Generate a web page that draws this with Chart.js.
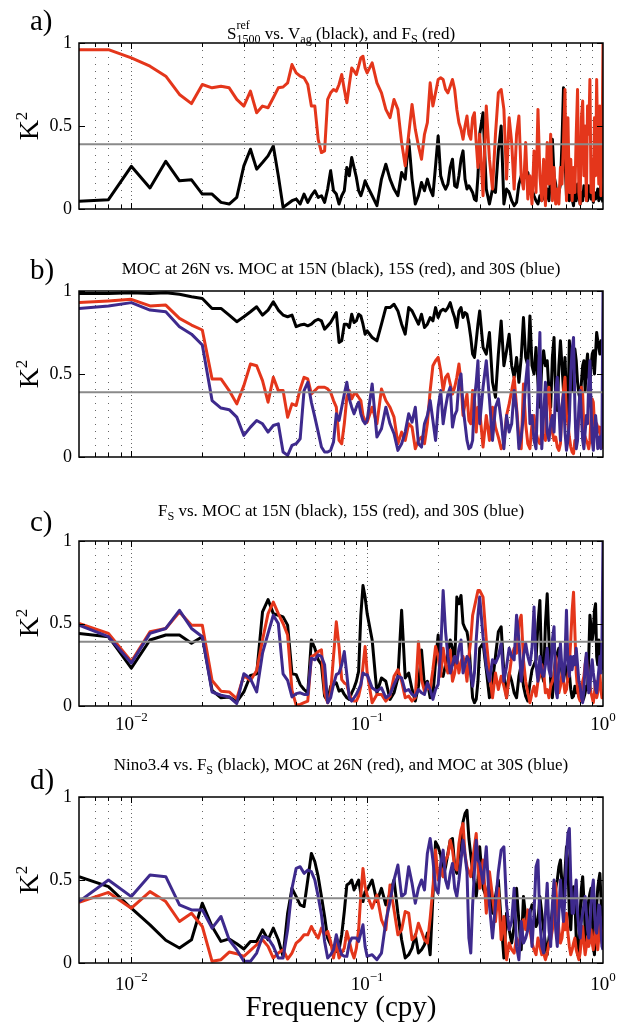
<!DOCTYPE html>
<html>
<head>
<meta charset="utf-8">
<script src="https://cdn.jsdelivr.net/npm/chart.js@4"></script>
<style>
  body { margin: 0; background: #fff; width: 627px; height: 1026px; position: relative; overflow: hidden; }
  canvas { position: absolute; left: 0; }
  .txt { position: absolute; font-family: "Liberation Serif", "Times New Roman", serif; color: #000; white-space: nowrap; }
  .title { left: 79px; width: 524px; text-align: center; font-size: 17px; line-height: 17px; }
  .lab { font-size: 29px; line-height: 29px; left: 30px; }
  .klab { font-size: 28px; line-height: 28px; transform: translate(-50%, -50%) rotate(-90deg); }
  .klab sup { font-size: 17px; vertical-align: 11px; line-height: 0; }
  sub { font-size: 0.72em; vertical-align: -0.3em; line-height: 0; }
  .stk { display: inline-block; font-size: 12px; line-height: 14px; vertical-align: -4px; text-align: left; }
  .stk span { display: block; }
  .xtitle { left: 79px; width: 524px; text-align: center; font-size: 29px; line-height: 29px; }
</style>
</head>
<body>
<canvas id="ca" width="627" height="250" style="top:0"></canvas>
<canvas id="cb" width="627" height="250" style="top:250px"></canvas>
<canvas id="cc" width="627" height="250" style="top:500px"></canvas>
<canvas id="cd" width="627" height="276" style="top:750px"></canvas>

<div class="txt lab" style="top:6px">a)</div>
<div class="txt lab" style="top:255px">b)</div>
<div class="txt lab" style="top:507px">c)</div>
<div class="txt lab" style="top:765px">d)</div>

<div class="txt title" style="top:18px">S<span class="stk"><span>ref</span><span>1500</span></span> vs. V<sub>ag</sub> (black), and F<sub>S</sub> (red)</div>
<div class="txt title" style="top:260px">MOC at 26N vs. MOC at 15N (black), 15S (red), and 30S (blue)</div>
<div class="txt title" style="top:502px">F<sub>S</sub> vs. MOC at 15N (black), 15S (red), and 30S (blue)</div>
<div class="txt title" style="top:756px">Nino3.4 vs. F<sub>S</sub> (black), MOC at 26N (red), and MOC at 30S (blue)</div>

<div class="txt klab" style="left:29px; top:126px">K<sup>2</sup></div>
<div class="txt klab" style="left:29px; top:374px">K<sup>2</sup></div>
<div class="txt klab" style="left:29px; top:623px">K<sup>2</sup></div>
<div class="txt klab" style="left:29px; top:880px">K<sup>2</sup></div>

<div class="txt xtitle" style="top:992px">Frequency (cpy)</div>

<script>
// frequency grid (cpy): fine at low frequency, coarser where the curves turn to noise
const freq = [];
for (let i = 3; i <= 50; i++) freq.push(+(i * 0.002).toFixed(3)); // 0.006 .. 0.100
for (let i = 21; i <= 60; i++) freq.push(+(i * 0.005).toFixed(3)); // 0.105 .. 0.300
for (let i = 31; i <= 100; i++) freq.push(+(i * 0.01).toFixed(2)); // 0.31 .. 1.00

const sigLevel = 0.39;

// a) S1500 vs Vag (black), FS (red)
const aBlack = [
  0.046, 0.056, 0.257, 0.127, 0.287, 0.17, 0.176, 0.09, 0.09, 0.04,
  0.03, 0.07, 0.26, 0.36, 0.24, 0.28, 0.32, 0.38, 0.20, 0.01,
  0.03, 0.05, 0.06, 0.03, 0.09, 0.04, 0.08, 0.11, 0.07, 0.08,
  0.04, 0.12, 0.23, 0.11, 0.09, 0.03, 0.08, 0.11, 0.25, 0.20,
  0.31, 0.25, 0.19, 0.11, 0.08, 0.12, 0.17, 0.14,
  0.08, 0.02, 0.18, 0.27, 0.18, 0.12, 0.08, 0.22, 0.18, 0.42,
  0.18, 0.03, 0.08, 0.16, 0.11, 0.18, 0.12, 0.08, 0.26, 0.44,
  0.20, 0.15, 0.12, 0.15, 0.25, 0.30, 0.14, 0.13, 0.20, 0.30,
  0.35, 0.18, 0.12, 0.14, 0.12, 0.10, 0.06, 0.05, 0.20, 0.45,
  0.58, 0.12, 0.03, 0.12, 0.10, 0.35, 0.50, 0.03, 0.12, 0.10,
  0.05, 0.02, 0.04, 0.15, 0.20, 0.18, 0.20, 0.22, 0.15, 0.12,
  0.08, 0.05, 0.03, 0.08, 0.05, 0.10, 0.05, 0.12, 0.05, 0.20,
  0.42, 0.20, 0.15, 0.05, 0.10, 0.15, 0.40, 0.73, 0.30, 0.08,
  0.12, 0.05, 0.10, 0.06, 0.02, 0.12, 0.05, 0.15, 0.08, 0.03,
  0.10, 0.05, 0.14, 0.08, 0.12, 0.05, 0.14, 0.10, 0.06, 0.08,
  0.04, 0.10, 0.06, 0.08, 0.12, 0.05, 0.08, 0.15, 0.06, 0.04
];
const aRed = [
  0.96, 0.96, 0.91, 0.86, 0.80, 0.69, 0.635, 0.75, 0.73, 0.74,
  0.73, 0.66, 0.62, 0.71, 0.58, 0.62, 0.61, 0.67, 0.73, 0.735,
  0.76, 0.87, 0.82, 0.80, 0.79, 0.75, 0.62, 0.62, 0.42, 0.34,
  0.35, 0.66, 0.70, 0.72, 0.71, 0.75, 0.81, 0.72, 0.64, 0.75,
  0.85, 0.83, 0.81, 0.86, 0.91, 0.92, 0.85, 0.82,
  0.88, 0.76, 0.70, 0.60, 0.55, 0.66, 0.60, 0.40, 0.26, 0.45,
  0.63, 0.48, 0.38, 0.30, 0.45, 0.52, 0.76, 0.62, 0.70, 0.78,
  0.79, 0.78, 0.72, 0.70, 0.74, 0.78, 0.72, 0.60, 0.52, 0.48,
  0.42, 0.50, 0.56, 0.45, 0.42, 0.55, 0.58, 0.40, 0.25, 0.45,
  0.08, 0.62, 0.30, 0.12, 0.45, 0.70, 0.72, 0.60, 0.18, 0.55,
  0.40, 0.12, 0.45, 0.56, 0.20, 0.12, 0.40, 0.06, 0.20, 0.03,
  0.35, 0.10, 0.60, 0.20, 0.05, 0.30, 0.02, 0.40, 0.15, 0.45,
  0.05, 0.25, 0.03, 0.12, 0.03, 0.25, 0.15, 0.40, 0.72, 0.05,
  0.55, 0.10, 0.30, 0.05, 0.25, 0.10, 0.45, 0.72, 0.10, 0.03,
  0.55, 0.65, 0.20, 0.50, 0.05, 0.62, 0.45, 0.78, 0.10, 0.30,
  0.05, 0.55, 0.20, 0.78, 0.35, 0.15, 0.62, 0.08, 0.30, 1.00
];

// b) MOC 26N vs 15N (black), 15S (red), 30S (blue)
const bBlack = [
  0.985, 0.985, 0.99, 0.985, 0.99, 0.98, 0.965, 0.955, 0.895, 0.895,
  0.855, 0.815, 0.845, 0.875, 0.905, 0.855, 0.885, 0.935, 0.885, 0.855,
  0.845, 0.855, 0.785, 0.795, 0.80, 0.79, 0.80, 0.82, 0.83, 0.82,
  0.77, 0.79, 0.81, 0.84, 0.87, 0.69, 0.70, 0.80, 0.80, 0.78,
  0.86, 0.81, 0.82, 0.86, 0.85, 0.80, 0.74, 0.76,
  0.72, 0.70, 0.80, 0.90, 0.90, 0.92, 0.88, 0.80, 0.74, 0.90,
  0.88, 0.84, 0.80, 0.86, 0.78, 0.80, 0.84, 0.82, 0.90, 0.84,
  0.88, 0.89, 0.88, 0.90, 0.93, 0.88, 0.84, 0.78, 0.88, 0.90,
  0.84, 0.87, 0.86, 0.80, 0.72, 0.62, 0.60, 0.70, 0.80, 0.88,
  0.66, 0.62, 0.75, 0.45, 0.36, 0.62, 0.82, 0.55, 0.64, 0.74,
  0.55, 0.48, 0.60, 0.45, 0.60, 0.84, 0.60, 0.55, 0.85, 0.55,
  0.50, 0.66, 0.45, 0.30, 0.55, 0.64, 0.55, 0.58, 0.40, 0.30,
  0.60, 0.72, 0.35, 0.28, 0.55, 0.70, 0.55, 0.40, 0.60, 0.35,
  0.25, 0.70, 0.55, 0.40, 0.45, 0.65, 0.58, 0.45, 0.38, 0.35,
  0.45, 0.55, 0.58, 0.40, 0.55, 0.62, 0.48, 0.45, 0.55, 0.62,
  0.64, 0.50, 0.62, 0.75, 0.70, 0.66, 0.62, 0.70, 0.66, 0.65
];
const bRed = [
  0.93, 0.94, 0.95, 0.91, 0.915, 0.835, 0.795, 0.765, 0.47, 0.47,
  0.40, 0.32, 0.43, 0.56, 0.55, 0.46, 0.33, 0.48, 0.40, 0.40,
  0.24, 0.32, 0.31, 0.41, 0.48, 0.47, 0.38, 0.40, 0.42, 0.42,
  0.42, 0.41, 0.39, 0.34, 0.30, 0.10, 0.08, 0.20, 0.36, 0.40,
  0.35, 0.38, 0.38, 0.36, 0.34, 0.25, 0.22, 0.21,
  0.30, 0.20, 0.41, 0.34, 0.30, 0.24, 0.08, 0.15, 0.10, 0.20,
  0.18, 0.05, 0.10, 0.12, 0.08, 0.20, 0.40, 0.55, 0.58, 0.60,
  0.52, 0.40, 0.48, 0.50, 0.44, 0.38, 0.42, 0.48, 0.56, 0.45,
  0.25, 0.32, 0.38, 0.22, 0.20, 0.40, 0.35, 0.15, 0.30, 0.28,
  0.06, 0.25, 0.10, 0.30, 0.18, 0.12, 0.05, 0.08, 0.25, 0.32,
  0.40, 0.48, 0.30, 0.12, 0.05, 0.44, 0.20, 0.08, 0.05, 0.20,
  0.25, 0.15, 0.10, 0.08, 0.15, 0.12, 0.10, 0.38, 0.42, 0.22,
  0.15, 0.10, 0.12, 0.06, 0.04, 0.08, 0.30, 0.40, 0.48, 0.25,
  0.20, 0.12, 0.06, 0.03, 0.02, 0.10, 0.08, 0.15, 0.25, 0.30,
  0.42, 0.38, 0.15, 0.12, 0.10, 0.08, 0.05, 0.10, 0.25, 0.35,
  0.33, 0.20, 0.15, 0.20, 0.18, 0.15, 0.18, 0.10, 0.08, 0.05
];
const bBlue = [
  0.895, 0.91, 0.93, 0.885, 0.875, 0.785, 0.74, 0.675, 0.34, 0.295,
  0.285, 0.24, 0.13, 0.18, 0.22, 0.20, 0.15, 0.19, 0.20, 0.03,
  0.01, 0.07, 0.08, 0.11, 0.40, 0.45, 0.33, 0.24, 0.15, 0.06,
  0.03, 0.03, 0.04, 0.09, 0.26, 0.22, 0.30, 0.38, 0.45, 0.35,
  0.30, 0.26, 0.30, 0.33, 0.26, 0.22, 0.20, 0.22,
  0.44, 0.12, 0.17, 0.30, 0.20, 0.14, 0.04, 0.08, 0.15, 0.26,
  0.21, 0.30, 0.08, 0.06, 0.20, 0.25, 0.34, 0.22, 0.10, 0.30,
  0.40, 0.20, 0.30, 0.38, 0.42, 0.18, 0.25, 0.28, 0.45, 0.50,
  0.30, 0.20, 0.10, 0.05, 0.06, 0.10, 0.35, 0.45, 0.58, 0.20,
  0.42, 0.58, 0.35, 0.10, 0.30, 0.35, 0.22, 0.05, 0.25, 0.15,
  0.20, 0.40, 0.28, 0.05, 0.12, 0.25, 0.45, 0.58, 0.20, 0.25,
  0.10, 0.05, 0.40, 0.75, 0.05, 0.25, 0.45, 0.15, 0.10, 0.20,
  0.25, 0.15, 0.40, 0.48, 0.30, 0.10, 0.30, 0.38, 0.15, 0.04,
  0.10, 0.22, 0.50, 0.65, 0.72, 0.30, 0.05, 0.10, 0.30, 0.40,
  0.25, 0.10, 0.05, 0.15, 0.25, 0.20, 0.45, 0.58, 0.30, 0.10,
  0.04, 0.15, 0.25, 0.18, 0.05, 0.08, 0.12, 0.05, 0.15, 1.00
];

// c) FS vs MOC at 15N (black), 15S (red), 30S (blue)
const cBlack = [
  0.44, 0.42, 0.23, 0.40, 0.43, 0.43, 0.38, 0.42, 0.095, 0.05,
  0.055, 0.025, 0.085, 0.185, 0.195, 0.57, 0.645, 0.56, 0.55, 0.54,
  0.49, 0.195, 0.19, 0.13, 0.10, 0.08, 0.40, 0.35, 0.28, 0.25,
  0.06, 0.03, 0.12, 0.13, 0.14, 0.09, 0.10, 0.07, 0.05, 0.04,
  0.08, 0.11, 0.15, 0.21, 0.55, 0.73, 0.66, 0.56,
  0.40, 0.08, 0.17, 0.15, 0.04, 0.08, 0.17, 0.58, 0.17, 0.20,
  0.10, 0.03, 0.12, 0.34, 0.12, 0.15, 0.05, 0.06, 0.27, 0.43,
  0.20, 0.18, 0.25, 0.32, 0.40, 0.35, 0.25, 0.66, 0.62, 0.67,
  0.50, 0.47, 0.45, 0.38, 0.20, 0.05, 0.02, 0.04, 0.15, 0.35,
  0.38, 0.22, 0.05, 0.15, 0.30, 0.45, 0.48, 0.20, 0.05, 0.20,
  0.15, 0.08, 0.05, 0.18, 0.25, 0.12, 0.06, 0.03, 0.14, 0.22,
  0.25, 0.28, 0.50, 0.64, 0.20, 0.15, 0.50, 0.68, 0.40, 0.15,
  0.05, 0.20, 0.28, 0.32, 0.35, 0.28, 0.20, 0.15, 0.25, 0.22,
  0.15, 0.20, 0.10, 0.05, 0.06, 0.12, 0.08, 0.12, 0.06, 0.10,
  0.05, 0.03, 0.05, 0.08, 0.12, 0.10, 0.30, 0.55, 0.48, 0.40,
  0.45, 0.58, 0.62, 0.30, 0.25, 0.40, 0.38, 0.30, 0.25, 0.22
];
const cRed = [
  0.50, 0.44, 0.27, 0.45, 0.47, 0.57, 0.49, 0.49, 0.155, 0.09,
  0.085, 0.045, 0.185, 0.155, 0.215, 0.40, 0.56, 0.63, 0.56, 0.50,
  0.43, 0.095, 0.005, 0.01, 0.02, 0.03, 0.30, 0.31, 0.33, 0.34,
  0.08, 0.02, 0.08, 0.30, 0.51, 0.36, 0.16, 0.14, 0.13, 0.07,
  0.04, 0.03, 0.03, 0.06, 0.12, 0.24, 0.36, 0.20,
  0.02, 0.07, 0.07, 0.03, 0.06, 0.18, 0.22, 0.15, 0.05, 0.06,
  0.03, 0.05, 0.39, 0.16, 0.09, 0.11, 0.10, 0.22, 0.36, 0.30,
  0.18, 0.35, 0.25, 0.20, 0.34, 0.15, 0.20, 0.30, 0.20, 0.27,
  0.30, 0.25, 0.15, 0.30, 0.40, 0.55, 0.60, 0.65, 0.70, 0.70,
  0.66, 0.40, 0.20, 0.05, 0.20, 0.10, 0.18, 0.12, 0.05, 0.18,
  0.30, 0.35, 0.32, 0.50, 0.55, 0.28, 0.15, 0.08, 0.02, 0.08,
  0.12, 0.06, 0.15, 0.18, 0.25, 0.20, 0.08, 0.10, 0.05, 0.12,
  0.15, 0.18, 0.30, 0.20, 0.08, 0.12, 0.20, 0.15, 0.08, 0.10,
  0.18, 0.25, 0.40, 0.58, 0.69, 0.45, 0.20, 0.10, 0.05, 0.03,
  0.10, 0.15, 0.18, 0.25, 0.30, 0.20, 0.15, 0.12, 0.08, 0.05,
  0.02, 0.08, 0.15, 0.05, 0.08, 0.15, 0.20, 0.10, 0.05, 0.05
];
const cBlue = [
  0.49, 0.42, 0.26, 0.44, 0.47, 0.58, 0.47, 0.42, 0.085, 0.065,
  0.055, 0.015, 0.195, 0.165, 0.085, 0.32, 0.44, 0.55, 0.50, 0.195,
  0.155, 0.055, 0.075, 0.08, 0.07, 0.07, 0.29, 0.28, 0.31, 0.30,
  0.25, 0.02, 0.05, 0.13, 0.19, 0.20, 0.25, 0.33, 0.19, 0.05,
  0.03, 0.05, 0.07, 0.10, 0.13, 0.20, 0.19, 0.19,
  0.11, 0.09, 0.11, 0.05, 0.07, 0.13, 0.18, 0.17, 0.09, 0.10,
  0.07, 0.06, 0.10, 0.08, 0.07, 0.14, 0.10, 0.04, 0.10, 0.13,
  0.33, 0.70, 0.45, 0.30, 0.20, 0.25, 0.30, 0.26, 0.35, 0.40,
  0.20, 0.25, 0.30, 0.28, 0.20, 0.12, 0.20, 0.40, 0.55, 0.66,
  0.42, 0.24, 0.15, 0.28, 0.26, 0.30, 0.38, 0.15, 0.24, 0.35,
  0.30, 0.28, 0.55, 0.40, 0.15, 0.30, 0.38, 0.30, 0.25, 0.35,
  0.60, 0.25, 0.15, 0.30, 0.20, 0.18, 0.25, 0.35, 0.22, 0.18,
  0.40, 0.48, 0.10, 0.05, 0.25, 0.38, 0.22, 0.15, 0.30, 0.58,
  0.25, 0.18, 0.30, 0.22, 0.30, 0.25, 0.35, 0.25, 0.15, 0.12,
  0.05, 0.02, 0.10, 0.25, 0.32, 0.20, 0.08, 0.10, 0.22, 0.28,
  0.20, 0.15, 0.10, 0.08, 0.15, 0.22, 0.30, 0.20, 0.40, 1.00
];

// d) Nino3.4 vs FS (black), MOC 26N (red), MOC 30S (blue)
const dBlack = [
  0.52, 0.46, 0.33, 0.23, 0.137, 0.09, 0.14, 0.36, 0.22, 0.13,
  0.145, 0.116, 0.084, 0.13, 0.13, 0.20, 0.14, 0.21, 0.14, 0.04,
  0.30, 0.45, 0.40, 0.35, 0.34, 0.50, 0.66, 0.61, 0.52, 0.40,
  0.28, 0.15, 0.11, 0.09, 0.07, 0.08, 0.17, 0.31, 0.47, 0.48,
  0.50, 0.44, 0.47, 0.50, 0.42, 0.37, 0.43, 0.44,
  0.50, 0.37, 0.45, 0.35, 0.42, 0.50, 0.30, 0.14, 0.03, 0.05,
  0.09, 0.17, 0.06, 0.08, 0.11, 0.18, 0.05, 0.40, 0.73, 0.70,
  0.65, 0.52, 0.58, 0.66, 0.74, 0.75, 0.58, 0.54, 0.66, 0.72,
  0.85, 0.90, 0.92, 0.75, 0.65, 0.55, 0.48, 0.40, 0.50, 0.70,
  0.45, 0.40, 0.50, 0.30, 0.40, 0.50, 0.25, 0.03, 0.30, 0.20,
  0.12, 0.22, 0.45, 0.25, 0.08, 0.40, 0.28, 0.20, 0.30, 0.35,
  0.32, 0.22, 0.25, 0.40, 0.30, 0.20, 0.12, 0.05, 0.15, 0.22,
  0.32, 0.38, 0.45, 0.50, 0.58, 0.62, 0.48, 0.40, 0.55, 0.70,
  0.60, 0.30, 0.20, 0.40, 0.46, 0.38, 0.15, 0.05, 0.10, 0.30,
  0.45, 0.52, 0.38, 0.20, 0.12, 0.30, 0.38, 0.42, 0.45, 0.30,
  0.10, 0.05, 0.20, 0.35, 0.45, 0.50, 0.54, 0.40, 0.25, 0.18
];
const dRed = [
  0.365, 0.425, 0.33, 0.43, 0.37, 0.25, 0.30, 0.22, 0.01, 0.02,
  0.066, 0.056, 0.04, 0.076, 0.11, 0.14, 0.10, 0.03, 0.06, 0.08,
  0.024, 0.06, 0.12, 0.14, 0.17, 0.17, 0.22, 0.18, 0.15, 0.21,
  0.17, 0.19, 0.13, 0.03, 0.12, 0.03, 0.06, 0.09, 0.19, 0.13,
  0.07, 0.03, 0.09, 0.20, 0.41, 0.57, 0.46, 0.41,
  0.33, 0.41, 0.26, 0.20, 0.47, 0.32, 0.17, 0.20, 0.31, 0.30,
  0.14, 0.16, 0.24, 0.19, 0.14, 0.12, 0.27, 0.45, 0.68, 0.50,
  0.58, 0.52, 0.62, 0.65, 0.74, 0.68, 0.58, 0.56, 0.72, 0.80,
  0.84, 0.65, 0.58, 0.55, 0.52, 0.62, 0.70, 0.78, 0.58, 0.45,
  0.62, 0.30, 0.55, 0.40, 0.25, 0.45, 0.14, 0.28, 0.02, 0.12,
  0.08, 0.06, 0.15, 0.10, 0.18, 0.26, 0.20, 0.32, 0.20, 0.12,
  0.08, 0.05, 0.15, 0.10, 0.05, 0.06, 0.02, 0.06, 0.12, 0.14,
  0.20, 0.25, 0.48, 0.30, 0.20, 0.12, 0.15, 0.25, 0.20, 0.30,
  0.18, 0.10, 0.05, 0.08, 0.12, 0.15, 0.08, 0.05, 0.02, 0.06,
  0.15, 0.22, 0.12, 0.05, 0.10, 0.16, 0.10, 0.14, 0.20, 0.12,
  0.08, 0.15, 0.22, 0.14, 0.08, 0.15, 0.28, 0.20, 0.12, 0.20
];
const dBlue = [
  0.37, 0.50, 0.40, 0.53, 0.52, 0.35, 0.32, 0.32, 0.21, 0.28,
  0.14, 0.08, 0.01, 0.01, 0.06, 0.16, 0.15, 0.10, 0.03, 0.03,
  0.20, 0.45, 0.57, 0.58, 0.54, 0.56, 0.55, 0.50, 0.40, 0.29,
  0.13, 0.03, 0.05, 0.08, 0.17, 0.10, 0.05, 0.04, 0.04, 0.12,
  0.15, 0.15, 0.15, 0.13, 0.18, 0.23, 0.10, 0.04,
  0.05, 0.02, 0.06, 0.25, 0.37, 0.50, 0.59, 0.40, 0.42, 0.58,
  0.48, 0.36, 0.45, 0.50, 0.44, 0.66, 0.75, 0.62, 0.45, 0.42,
  0.60, 0.68, 0.50, 0.45, 0.54, 0.60, 0.45, 0.40, 0.50, 0.62,
  0.74, 0.65, 0.55, 0.15, 0.06, 0.35, 0.55, 0.74, 0.62, 0.60,
  0.48, 0.70, 0.35, 0.15, 0.35, 0.55, 0.68, 0.70, 0.35, 0.20,
  0.25, 0.45, 0.10, 0.02, 0.25, 0.12, 0.15, 0.20, 0.32, 0.10,
  0.30, 0.58, 0.62, 0.25, 0.10, 0.06, 0.30, 0.48, 0.20, 0.10,
  0.35, 0.50, 0.20, 0.10, 0.30, 0.50, 0.35, 0.25, 0.40, 0.65,
  0.78, 0.81, 0.50, 0.30, 0.30, 0.42, 0.50, 0.30, 0.20, 0.15,
  0.25, 0.30, 0.35, 0.40, 0.30, 0.20, 0.15, 0.22, 0.35, 0.45,
  0.50, 0.35, 0.20, 0.18, 0.25, 0.35, 0.34, 0.20, 0.10, 0.08
];

const xTickVals = [0.01, 0.1, 1];
const xTickExp = ["\u22122", "\u22121", "0"];

const BLACK = "#000000";
const RED = "#e4361b";
const BLUE = "#3e2a8d";
const GREY = "#8a8a8a";
const SERIF = '"Liberation Serif", "Times New Roman", serif';

// dotted grid at every 1..9 x 10^k inside the axis range
const gridVals = [];
[0.001, 0.01, 0.1].forEach((d) => {
  for (let k = 1; k <= 9; k++) {
    const v = +(k * d).toFixed(4);
    if (v > 0.006 && v < 1) gridVals.push({ v, decade: k === 1 });
  }
});

const decor = {
  id: "decor",
  beforeDatasetsDraw(chart) {
    const { ctx, chartArea: a, scales } = chart;
    ctx.save();
    ctx.lineWidth = 1;
    ctx.strokeStyle = "rgba(0,0,0,0.6)";
    gridVals.forEach((g) => {
      const px = Math.round(scales.x.getPixelForValue(g.v)) + 0.5;
      ctx.setLineDash(g.decade ? [1, 3] : [1, 6]);
      ctx.beginPath();
      ctx.moveTo(px, a.top);
      ctx.lineTo(px, a.bottom);
      ctx.stroke();
    });
    ctx.restore();
  },
  afterDatasetsDraw(chart, args, opts) {
    const { ctx, chartArea: a, scales } = chart;
    ctx.save();
    ctx.strokeStyle = "#000";
    ctx.lineWidth = 1.5;
    ctx.strokeRect(a.left, a.top, a.right - a.left, a.bottom - a.top);
    // inward ticks
    ctx.lineWidth = 1;
    ctx.beginPath();
    gridVals.forEach((g) => {
      const px = Math.round(scales.x.getPixelForValue(g.v)) + 0.5;
      const len = g.decade ? 6 : 4;
      ctx.moveTo(px, a.top);
      ctx.lineTo(px, a.top + len);
      ctx.moveTo(px, a.bottom);
      ctx.lineTo(px, a.bottom - len);
    });
    [0, 0.5, 1].forEach((v) => {
      const py = Math.round(scales.y.getPixelForValue(v)) + 0.5;
      ctx.moveTo(a.left, py);
      ctx.lineTo(a.left + 6, py);
      ctx.moveTo(a.right, py);
      ctx.lineTo(a.right - 6, py);
    });
    ctx.stroke();
    // 10^n labels
    if (opts.xLabels) {
      ctx.fillStyle = "#000";
      ctx.textBaseline = "alphabetic";
      xTickVals.forEach((v, i) => {
        const px = scales.x.getPixelForValue(v);
        ctx.font = "19px " + SERIF;
        const w1 = ctx.measureText("10").width;
        ctx.font = "13px " + SERIF;
        const w2 = ctx.measureText(xTickExp[i]).width;
        const x0 = px - (w1 + w2) / 2;
        const base = a.bottom + opts.labelOffset;
        ctx.font = "19px " + SERIF;
        ctx.fillText("10", x0, base);
        ctx.font = "13px " + SERIF;
        ctx.fillText(xTickExp[i], x0 + w1, base - 9);
      });
    }
    ctx.restore();
  },
};

function toPoints(vals) {
  if (vals.length !== freq.length) throw new Error("length " + vals.length + " != " + freq.length);
  return freq.map((f, i) => ({ x: f, y: vals[i] }));
}

function makePanel(id, series, pad, xLabels, labelOffset) {
  const datasets = [
    {
      data: [{ x: freq[0], y: sigLevel }, { x: freq[freq.length - 1], y: sigLevel }],
      borderColor: GREY,
      borderWidth: 2,
    },
  ];
  series.forEach(([vals, color]) => {
    datasets.push({ data: toPoints(vals), borderColor: color, borderWidth: 3 });
  });
  return new Chart(document.getElementById(id), {
    type: "line",
    data: { datasets },
    options: {
      responsive: false,
      animation: false,
      events: [],
      layout: { padding: { top: pad[0], bottom: pad[1], left: 0, right: 24 } },
      elements: { point: { radius: 0 }, line: { tension: 0, borderJoinStyle: "round" } },
      scales: {
        x: { type: "logarithmic", min: 0.006, max: 1, display: false },
        y: {
          min: 0,
          max: 1,
          grid: { display: false, drawTicks: false },
          border: { display: false },
          ticks: {
            stepSize: 0.5,
            padding: 7,
            color: "#000",
            font: { family: SERIF, size: 18 },
            callback: (v) => String(v),
          },
          afterFit: (s) => {
            s.width = 79;
          },
        },
      },
      plugins: {
        legend: { display: false },
        tooltip: { enabled: false },
        decor: { xLabels, labelOffset },
      },
    },
    plugins: [decor],
  });
}

// first dataset is drawn on top
makePanel("ca", [[aRed, RED], [aBlack, BLACK]], [43, 41], false, 0);
makePanel("cb", [[bBlue, BLUE], [bRed, RED], [bBlack, BLACK]], [41, 43], false, 0);
makePanel("cc", [[cBlue, BLUE], [cRed, RED], [cBlack, BLACK]], [41, 44], true, 24);
makePanel("cd", [[dBlue, BLUE], [dRed, RED], [dBlack, BLACK]], [47, 63], true, 27);
</script>
</body>
</html>
